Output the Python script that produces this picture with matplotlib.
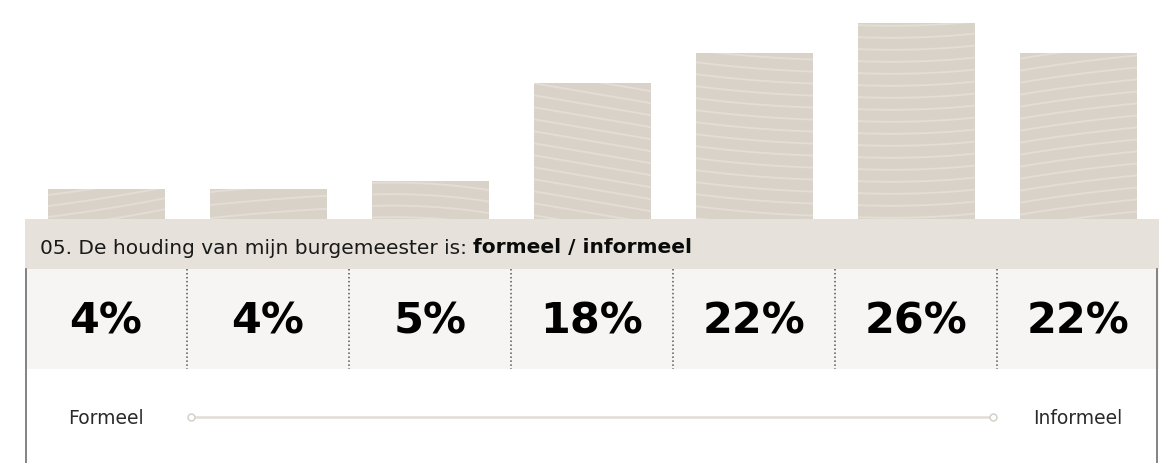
import numpy as np
import matplotlib
matplotlib.use("Agg")
import matplotlib.pyplot as plt
from matplotlib.patches import Rectangle

# ---------------- data ----------------
categories = ["1", "2", "3", "4", "5", "6", "7"]
values = [4, 4, 5, 18, 22, 26, 22]
labels = ["4%", "4%", "5%", "18%", "22%", "26%", "22%"]
question_prefix = "05. De houding van mijn burgemeester is:"
question_bold = "formeel / informeel"
left_label = "Formeel"
right_label = "Informeel"

# ---------------- style ----------------
W, H = 1164, 464
BAR_COLOR = "#d9d2c8"
STRIPE_COLOR = "#e3ddd5"
HEADER_COLOR = "#e6e1da"
ROW_COLOR = "#f6f5f3"
LINE_COLOR = "#e1dcd5"
BORDER_COLOR = "#6e6e6e"
FONT = "DejaVu Sans"

plt.rcParams["font.family"] = [FONT]

fig = plt.figure(figsize=(W / 100, H / 100), dpi=100)
fig.patch.set_facecolor("white")

# Background / decoration axes in pixel coordinates
bg = fig.add_axes([0, 0, 1, 1])
bg.set_xlim(0, W)
bg.set_ylim(H, 0)
bg.axis("off")
bg.set_zorder(0)

left, right = 25, 1159
n = len(values)
col_w = (right - left) / n
bar_bottom = 220
header_top, header_bot = 220, 270
row_top, row_bot = 270, 370

# header band
bg.add_patch(Rectangle((left, header_top), right - left, header_bot - header_top,
                       facecolor=HEADER_COLOR, edgecolor="none"))
# percentage row
bg.add_patch(Rectangle((left, row_top), right - left, row_bot - row_top,
                       facecolor=ROW_COLOR, edgecolor="none"))
# borders
bg.plot([left + 0.5, left + 0.5], [row_top, H], color=BORDER_COLOR, lw=1.2)
bg.plot([right - 2.5, right - 2.5], [row_top, H], color=BORDER_COLOR, lw=1.2)
# dotted separators
for k in range(1, n):
    x = left + k * col_w
    bg.plot([x, x], [row_top, row_bot], color="#555555", lw=1.1,
            linestyle=(0, (1, 1.6)))

# percentages
for i, lab in enumerate(labels):
    bg.text(left + (i + 0.5) * col_w, 322, lab, ha="center", va="center",
            fontsize=31, fontweight="bold", color="#000000")

# header question
t1 = bg.text(40, 248, question_prefix, ha="left", va="center",
             fontsize=14.5, color="#1a1a1a")
fig.canvas.draw()
r = fig.canvas.get_renderer()
bb = t1.get_window_extent(r)
x_end = bg.transData.inverted().transform((bb.x1, bb.y0))[0]
bg.text(x_end + 6, 248, question_bold, ha="left", va="center",
        fontsize=14.5, fontweight="bold", color="#0a0a0a")

# bottom scale
c0 = left + 0.5 * col_w
c_last = left + (n - 0.5) * col_w
bg.text(c0, 419, left_label, ha="center", va="center", fontsize=13.5, color="#2a2a2a")
bg.text(c_last, 419, right_label, ha="center", va="center", fontsize=13.5, color="#2a2a2a")
bg.plot([191, 993], [417.5, 417.5], color=LINE_COLOR, lw=1.8, solid_capstyle="butt")
bg.plot([191, 993], [417.5, 417.5], linestyle="none", marker="o", markersize=5,
        markerfacecolor="white", markeredgecolor="#d6d0c8", markeredgewidth=1.1)

# ---------------- bars ----------------
px_per_pct = 7.55
bar_ax = fig.add_axes([left / W, (H - bar_bottom) / H, (right - left) / W, bar_bottom / H])
bar_ax.set_zorder(1)
bar_ax.patch.set_alpha(0)
bar_ax.axis("off")
x = np.arange(n)
bars = bar_ax.bar(x, values, width=117 / col_w, color=BAR_COLOR, edgecolor="none")
bar_ax.set_xlim(-0.5, n - 0.5)
bar_ax.set_ylim(0, bar_bottom / px_per_pct)

# wavy texture stripes (decoration), drawn in pixel space, clipped to bars
slopes = [-0.16, -0.08, 0.06, 0.17, 0.08, -0.03, -0.13]
curves = [-0.0003, 0.0002, 0.0008, 0.0, -0.0004, -0.0006, 0.0003]
spacing = [11, 13, 11.5, 12, 12, 12, 12]
fig.canvas.draw()
to_bg = bg.transData.inverted()
for i, patch in enumerate(bars.patches):
    bbd = patch.get_window_extent(r)
    (x0, y0) = to_bg.transform((bbd.x0, bbd.y1))  # top-left in bg px
    (x1, y1) = to_bg.transform((bbd.x1, bbd.y0))  # bottom-right
    u = np.linspace(x0 - 2, x1 + 2, 60)
    wdt = x1 - x0
    base = slopes[i] * (u - x0) + curves[i] * (u - x0 - wdt / 2) ** 2
    lo = y0 - abs(slopes[i]) * wdt - 40
    hi = y1 + abs(slopes[i]) * wdt + 40
    off = lo
    while off < hi:
        ln, = bar_ax.plot(u, base + off, color=STRIPE_COLOR, lw=1.4,
                          transform=bg.transData, solid_capstyle="butt")
        ln.set_clip_path(patch)
        off += spacing[i]
bar_ax.set_xlim(-0.5, n - 0.5)
bar_ax.set_ylim(0, bar_bottom / px_per_pct)

fig.savefig("out.png", dpi=100, facecolor="white")
